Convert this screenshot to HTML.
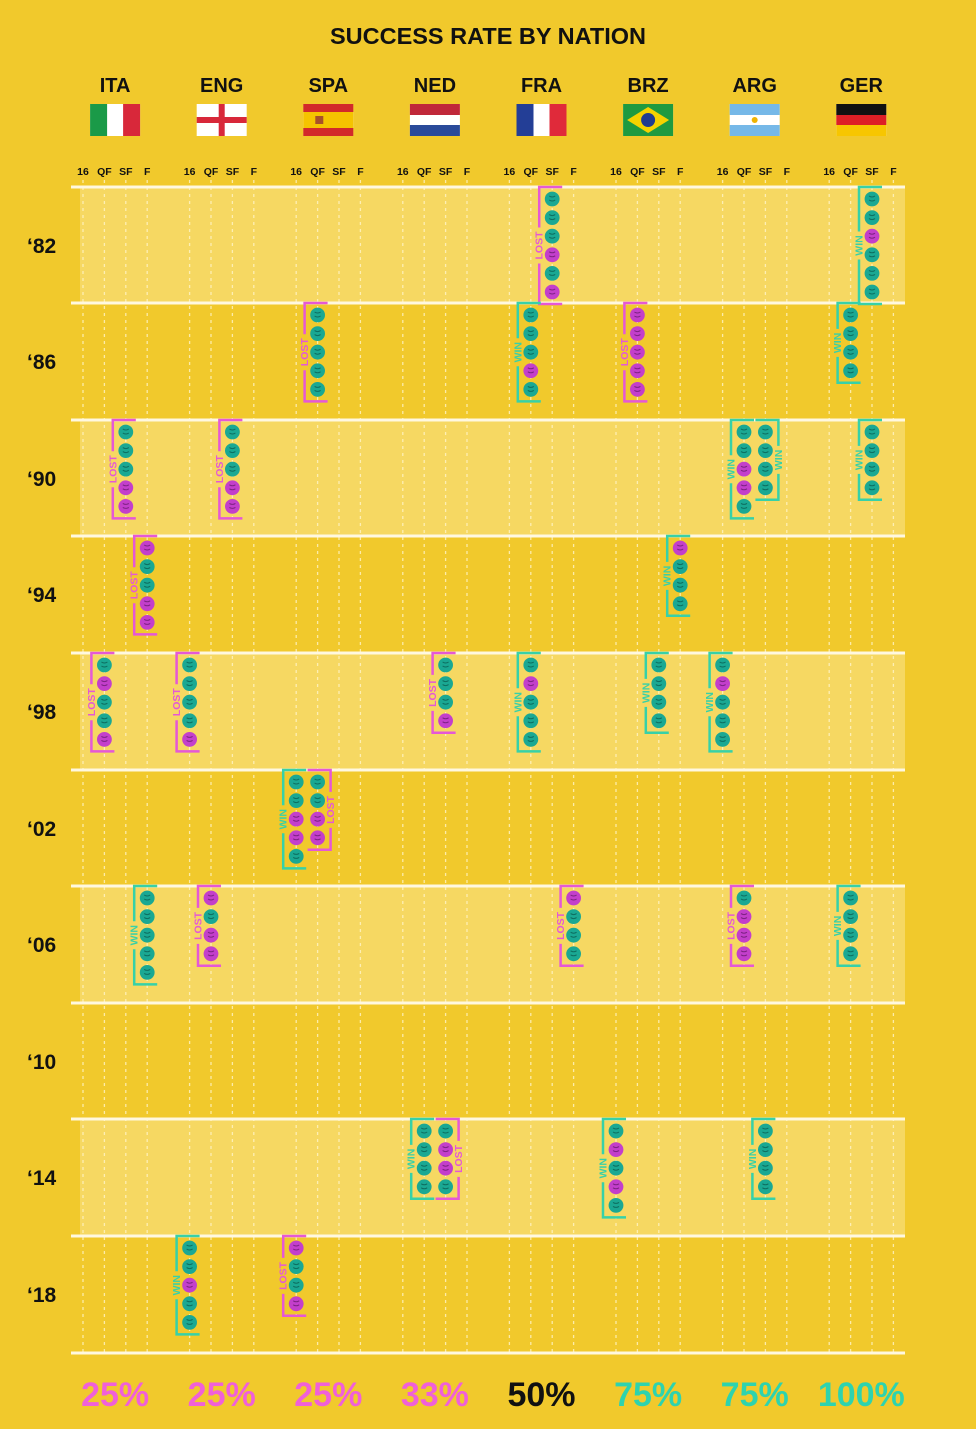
<!DOCTYPE html>
<html><head><meta charset="utf-8"><style>
body{margin:0;background:#f1c92c;}
svg{display:block}
text{font-family:"Liberation Sans",sans-serif;font-weight:bold}
</style></head><body>
<svg id="s" width="976" height="1429" xmlns="http://www.w3.org/2000/svg">
<rect width="976" height="1429" fill="#f1c92c"/>
<text x="488" y="44" text-anchor="middle" font-size="23.5" fill="#111">SUCCESS RATE BY NATION</text>
<g id="g"></g>
</svg>
<script>
const NS="http://www.w3.org/2000/svg";const g=document.getElementById('g');
function el(t,a,txt){const e=document.createElementNS(NS,t);for(const k in a)e.setAttribute(k,a[k]);if(txt!=null)e.textContent=txt;g.appendChild(e);return e;}
const nations=["ITA","ENG","SPA","NED","FRA","BRZ","ARG","GER"];
const base=83,gs=106.6,ss=21.4;
const sx=(n,s)=>base+n*gs+s*ss;
const tops=[187,303,420,536,653,770,886,1003,1119,1236];
const years=["‘82","‘86","‘90","‘94","‘98","‘02","‘06","‘10","‘14","‘18"];
tops.forEach((t,i)=>{if(i%2==0)el('rect',{x:80,y:t,width:825,height:116.6,fill:'#f6d862'});});
for(let n=0;n<8;n++)for(let s=0;s<4;s++)el('line',{x1:sx(n,s),y1:180,x2:sx(n,s),y2:1352,stroke:'#fff4c8','stroke-width':1.3,'stroke-dasharray':'3 4',opacity:0.8});
[...tops,1353].forEach(t=>el('rect',{x:71,y:t-1.5,width:834,height:3,fill:'#fff8e0'}));
years.forEach((y,i)=>el('text',{x:27,y:tops[i]+66,'font-size':21,fill:'#111'},y));
nations.forEach((n,i)=>{const c=sx(i,1.5);el('text',{x:c,y:92,'text-anchor':'middle','font-size':20,fill:'#111'},n);
['16','QF','SF','F'].forEach((l,s)=>el('text',{x:sx(i,s),y:175,'text-anchor':'middle','font-size':10.5,fill:'#111'},l));});
function flag(i){const x=sx(i,1.5)-25,y=104,w=50,h=32;
 const r=(a,b,c,d,f)=>el('rect',{x:a,y:b,width:c,height:d,fill:f});
 r(x,y,w,h,'#fff');
 switch(i){
 case 0:r(x,y,17,h,'#1a9a48');r(x+33,y,17,h,'#d8283a');break;
 case 1:r(x+22,y,6,h,'#d8283a');r(x,y+13,w,6,'#d8283a');break;
 case 2:r(x,y,w,h,'#f5c400');r(x,y,w,8,'#d22a2a');r(x,y+24,w,8,'#d22a2a');r(x+12,y+12,8,8,'#a8502a');break;
 case 3:r(x,y,w,11,'#c0283a');r(x,y+21,w,11,'#2a4a9a');break;
 case 4:r(x,y,17,h,'#233e96');r(x+33,y,17,h,'#e02a3a');break;
 case 5:r(x,y,w,h,'#1f9a40');el('polygon',{points:`${x+4},${y+16} ${x+25},${y+3} ${x+46},${y+16} ${x+25},${y+29}`,fill:'#f5d200'});el('circle',{cx:x+25,cy:y+16,r:7,fill:'#203c90'});break;
 case 6:r(x,y,w,11,'#75b8e8');r(x,y+21,w,11,'#75b8e8');el('circle',{cx:x+25,cy:y+16,r:3,fill:'#f0b400'});break;
 case 7:r(x,y,w,11,'#111');r(x,y+11,w,10,'#dd1f26');r(x,y+21,w,11,'#f7c600');break;}
}
for(let i=0;i<8;i++)flag(i);
const T='#1aa893',P='#c33fcb',BT='#37d1a8',BP='#e558d6';
const D=[
[0,4,[[2,'tttptp','L','l']]],[0,7,[[2,'ttpttt','W','l']]],
[1,2,[[1,'ttttt','L','l']]],[1,4,[[1,'tttpt','W','l']]],[1,5,[[1,'ppppp','L','l']]],[1,7,[[1,'tttt','W','l']]],
[2,0,[[2,'tttpp','L','l']]],[2,1,[[2,'tttpp','L','l']]],[2,6,[[1,'ttppt','W','l'],[2,'tttt','W','r']]],[2,7,[[2,'tttt','W','l']]],
[3,0,[[3,'pttpp','L','l']]],[3,5,[[3,'pttt','W','l']]],
[4,0,[[1,'tpttp','L','l']]],[4,1,[[0,'ttttp','L','l']]],[4,3,[[2,'tttp','L','l']]],[4,4,[[1,'tpttt','W','l']]],[4,5,[[2,'tttt','W','l']]],[4,6,[[0,'tpttt','W','l']]],
[5,2,[[0,'ttppt','W','l'],[1,'ttpp','L','r']]],
[6,0,[[3,'ttttt','W','l']]],[6,1,[[1,'ptpp','L','l']]],[6,4,[[3,'pttt','L','l']]],[6,6,[[1,'tppp','L','l']]],[6,7,[[1,'tttt','W','l']]],
[8,3,[[1,'tttt','W','l'],[2,'tppt','L','r']]],[8,5,[[0,'tptpt','W','l']]],[8,6,[[2,'tttt','W','l']]],
[9,1,[[0,'ttptt','W','l']]],[9,2,[[0,'pttp','L','l']]]
];
D.forEach(([r,n,cols])=>cols.forEach(([s,b,l,side])=>{
 const x=sx(n,s),t=tops[r];const col=l=='W'?BT:BP;const bot=t+12+(b.length-1)*18.6+12;
 const lx=side=='l'?x-13:x+13, ex=side=='l'?x+10:x-10;
 const mid=(t+bot)/2, txt=l=='W'?'WIN':'LOST', half=l=='W'?14:18;
 el('polyline',{points:`${ex},${t} ${lx},${t} ${lx},${mid-half}`,fill:'none',stroke:col,'stroke-width':2.5});
 el('polyline',{points:`${lx},${mid+half} ${lx},${bot} ${ex},${bot}`,fill:'none',stroke:col,'stroke-width':2.5});
 el('text',{x:lx,y:mid+3.5,'text-anchor':'middle','font-size':10.5,fill:col,transform:`rotate(-90 ${lx} ${mid})`},txt);
 [...b].forEach((c,k)=>{const cy=t+12+k*18.6;el('circle',{cx:x,cy,r:7.4,fill:c=='t'?T:P});
  el('path',{d:`M${x-3} ${cy-3} q3 2 6 0 M${x-3} ${cy+1} q3 2 6 0`,stroke:c=='t'?'#0d6e60':'#7d2284','stroke-width':1,fill:'none'});});
}));
const pc=[['25%','#f060d8'],['25%','#f060d8'],['25%','#f060d8'],['33%','#f060d8'],['50%','#111'],['75%','#2ed3ae'],['75%','#2ed3ae'],['100%','#2ed3ae']];
pc.forEach(([t,c],i)=>el('text',{x:sx(i,1.5),y:1406,'text-anchor':'middle','font-size':34,fill:c},t));
</script>
</body></html>
